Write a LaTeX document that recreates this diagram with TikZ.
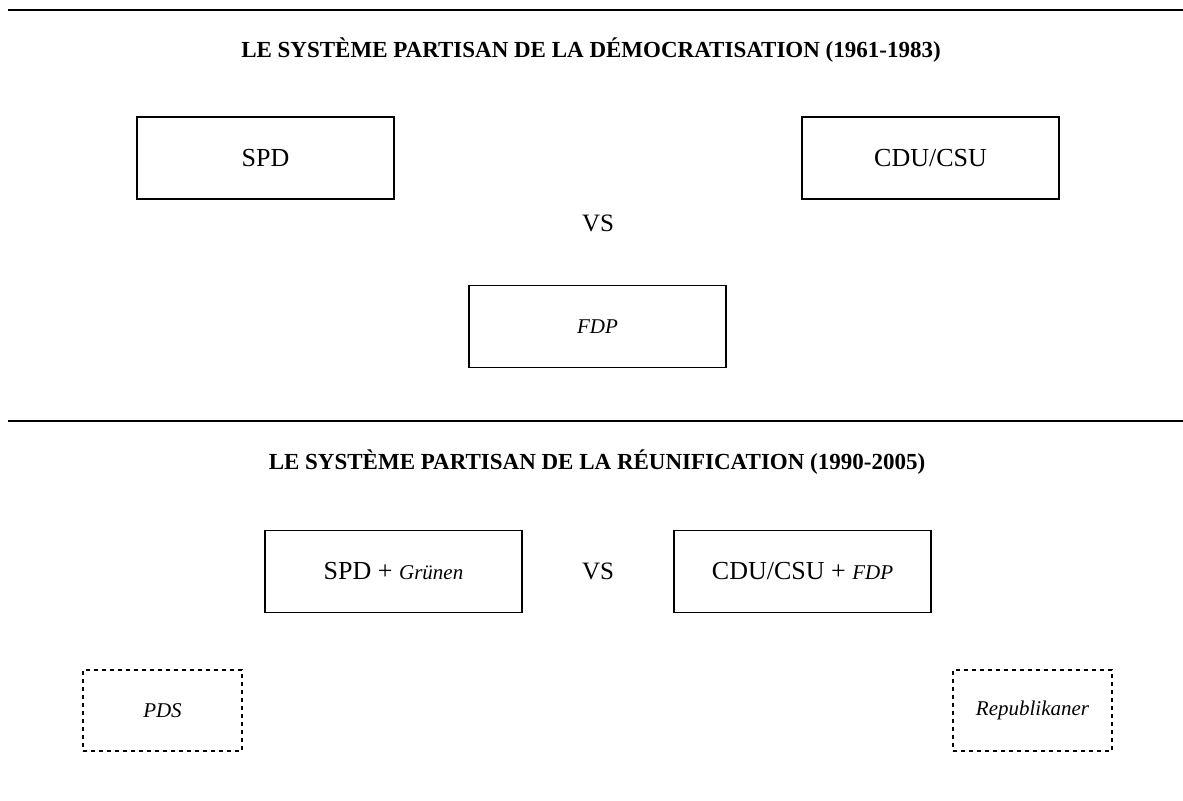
\documentclass[tikz,border=0pt]{standalone}
\usepackage{fontspec}
\setmainfont{Liberation Serif}

\begin{document}
\begin{tikzpicture}[x=0.5pt, y=-0.5pt,
  rule/.style={line width=1pt},
  period/.style={font=\fontsize{11.5}{13}\selectfont\bfseries},
  party/.style={draw, line width=0.85pt, minimum width=128.5pt, minimum height=41pt, inner sep=0pt, font=\fontsize{13}{15}\selectfont},
  smallparty/.style={draw, line width=1pt, dash pattern=on 2pt off 2pt, minimum width=79.5pt, minimum height=40.5pt, inner sep=0pt, font=\fontsize{10.5}{12}\selectfont\itshape},
  versus/.style={font=\fontsize{12.5}{15}\selectfont}]
\useasboundingbox (0,0) rectangle (1183,800);
% 1961-1983
\draw[rule] (8,10) -- (1183,10);
\node[period] (title1) at (591,50) {LE SYSTÈME PARTISAN DE LA DÉMOCRATISATION (1961-1983)};
\node[party] (spd) at (265.5,158) {SPD};
\node[party] (cdu) at (930.5,158) {CDU/CSU};
\node[versus] (vs1) at (598,223) {VS};
\node[party, font=\fontsize{10.5}{12}\selectfont\itshape] (fdp) at (597.5,326.5) {FDP};
% 1990-2005
\draw[rule] (8,421) -- (1183,421);
\node[period] (title2) at (597,462) {LE SYSTÈME PARTISAN DE LA RÉUNIFICATION (1990-2005)};
\node[party] (spdg) at (393.5,571.5) {SPD + {\fontsize{10.5}{12}\selectfont\itshape Grünen}};
\node[versus] (vs2) at (598,571.5) {VS};
\node[party] (cdufdp) at (802.5,571.5) {CDU/CSU + {\fontsize{10.5}{12}\selectfont\itshape FDP}};
\node[smallparty] (pds) at (162.5,710.5) {PDS};
\node[smallparty] (rep) at (1032.5,710.5) {Republikaner};
\end{tikzpicture}
\end{document}
